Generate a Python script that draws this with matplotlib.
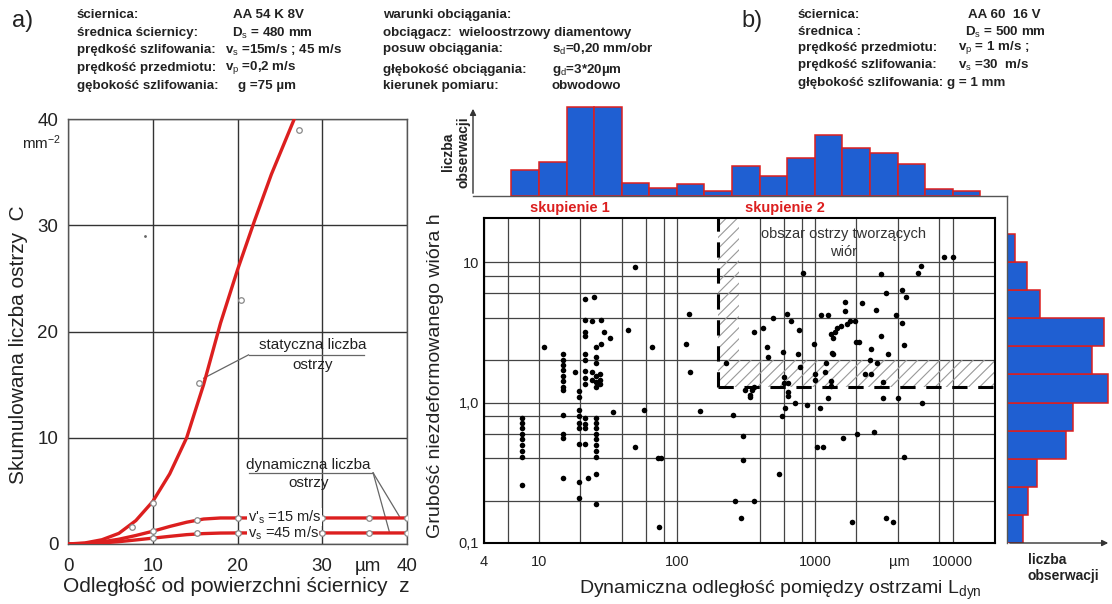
import numpy as np
import matplotlib
matplotlib.use("Agg")
from matplotlib import pyplot as plt
from matplotlib.lines import Line2D
from matplotlib.patches import Rectangle, FancyArrowPatch
from matplotlib.ticker import NullFormatter

plt.rcParams['font.family'] = ['Liberation Sans', 'DejaVu Sans']
plt.rcParams['mathtext.fontset'] = 'custom'
plt.rcParams['mathtext.rm'] = 'Liberation Sans'
plt.rcParams['mathtext.it'] = 'Liberation Sans:italic'
plt.rcParams['mathtext.bf'] = 'Liberation Sans:bold'
plt.rcParams['hatch.linewidth'] = 0.8

# ---- a) cumulative number of cutting edges vs depth z
z_stat = [0, 2, 4, 6, 8, 10, 12, 14, 16, 18, 20, 22, 24, 26.7]
c_stat = [0, 0.1, 0.4, 1.0, 2.2, 4.0, 6.6, 10.0, 15.0, 20.8, 25.8, 30.4, 34.8, 40.0]
z_stat_pts = [7.5, 10, 15.4, 20.4, 27.2]
c_stat_pts = [1.6, 3.9, 15.2, 23.0, 39.0]

z_dyn = [0, 2, 4, 6, 8, 10, 12, 14, 16, 18, 20, 25, 30, 35, 40]
c_dyn15 = [0, 0.05, 0.2, 0.45, 0.8, 1.2, 1.65, 2.05, 2.35, 2.45, 2.45, 2.45, 2.45, 2.45, 2.45]
c_dyn45 = [0, 0.03, 0.1, 0.22, 0.38, 0.55, 0.72, 0.88, 0.98, 1.03, 1.04, 1.04, 1.04, 1.04, 1.04]
z_dyn_pts = [10, 15.2, 20, 30, 35.5, 40]
c_dyn15_pts = [1.2, 2.3, 2.45, 2.45, 2.45, 2.45]
c_dyn45_pts = [0.55, 1.0, 1.04, 1.04, 1.04, 1.04]

# ---- b) chip thickness h vs dynamic edge spacing L_dyn
L_dyn = ([7.5] * 9 + [10.9] + [15] * 12 + [18.2] + [19.5] * 9 + [21.6] * 13 + [22.8]
         + [24.3] * 3 + [25.1] + [25.8] * 16 + [27.5] * 3
         + [28.3, 28.3, 29.5, 32.9, 34.6, 44, 49.7, 50, 58, 66, 73, 77, 74, 116, 122, 124, 148]
         + [228, 256, 262, 290, 300, 300, 365, 360, 350, 339, 365, 420, 310, 340,
            450, 460, 500, 550, 574, 590, 597, 597, 604, 630, 638, 638, 640, 670,
            716, 750, 770, 780, 820, 880, 990, 1000, 1000, 1040, 1095, 1100,
            1140, 1240, 1240, 1200, 1180, 1300, 1300, 1300, 1320, 1350, 1350, 1400, 1450,
            1550, 1650, 1650, 1700, 1800, 1950, 2000, 2100, 2030, 2200, 1870, 1590,
            2300, 2550, 2560, 2500, 2700, 2790, 2800, 3000, 3030, 3100, 3100, 3250, 3250,
            3400, 3700, 3900, 4000, 4300, 4300, 4400, 4400, 4600, 5600, 5900, 6000,
            8600, 10000])
h = ([0.78, 0.72, 0.66, 0.6, 0.55, 0.5, 0.45, 0.41, 0.26] + [2.47]
     + [2.2, 2.0, 1.85, 1.7, 1.55, 1.42, 1.3, 1.22, 0.82, 0.6, 0.56, 0.29] + [1.64]
     + [1.2, 1.1, 0.88, 0.8, 0.72, 0.66, 0.51, 0.27, 0.21]
     + [5.5, 3.9, 3.2, 3.0, 2.2, 2.0, 1.67, 1.5, 1.35, 0.78, 0.7, 0.66, 0.51] + [0.29]
     + [3.8, 1.64, 1.45] + [5.6]
     + [2.5, 2.1, 1.9, 1.55, 1.4, 1.3, 0.78, 0.72, 0.66, 0.6, 0.55, 0.5, 0.45, 0.41, 0.31, 0.19]
     + [1.6, 1.45, 1.35]
     + [3.9, 2.6, 3.16, 2.9, 0.85, 3.3, 9.2, 0.48, 0.89, 2.5, 0.4, 0.4, 0.13, 2.6, 4.25, 1.64, 0.87]
     + [1.9, 0.82, 0.2, 0.15, 0.58, 0.39, 0.2, 1.3, 1.22, 1.1, 3.2, 3.4, 1.22, 1.14,
        2.47, 2.1, 4.0, 0.31, 0.8, 2.3, 1.51, 1.37, 0.92, 4.3, 1.37, 1.18, 1.11, 3.8,
        1.0, 2.2, 3.3, 1.8, 8.3, 0.96, 2.6, 1.6, 1.44, 0.48, 0.92, 4.2,
        0.48, 4.2, 1.07, 1.9, 1.64, 3.1, 1.42, 1.32, 2.25, 2.2, 2.9, 3.2, 3.4,
        3.5, 5.2, 4.5, 3.6, 3.8, 3.8, 2.7, 2.7, 0.6, 5.1, 0.14, 0.56,
        1.6, 2.4, 1.6, 2.0, 0.62, 4.55, 1.9, 8.2, 3.0, 1.08, 1.4, 6.0, 0.15,
        2.2, 0.14, 4.2, 1.08, 6.3, 3.7, 2.55, 0.41, 5.6, 8.3, 9.4, 1.0,
        10.8, 10.8])

# histograms: bins of 0.2 decade
top_counts = [26, 34, 89, 89, 13, 8, 12, 5, 30, 20, 38, 61, 48, 43, 32, 7, 5]
right_counts = [16, 21, 30, 59, 66, 101, 85, 97, 33, 20, 8]   # from h = 0,1 upwards

x_grid = [6, 20, 40, 60, 80, 400, 600, 800, 2000, 4000, 8000]
y_grid = [0.2, 0.4, 0.6, 0.8, 2, 4, 6, 8]

W, H = 1112, 604
RED = '#dc1f1f'
BLUE = '#1f5fd2'
TXT = '#222222'


def box(x0, y0, x1, y1):
    return [x0 / W, 1 - y1 / H, (x1 - x0) / W, (y1 - y0) / H]


def fp(x, y):
    return (x / W, 1 - y / H)


fig = plt.figure(figsize=(W / 100, H / 100), dpi=100)

# ---------------- header texts
hdr = dict(fontsize=9.6, fontweight='bold', color=TXT, va='center')
fig.text(*fp(12, 21), 'a)', fontsize=17, color=TXT, va='center')
for y, a, b, xb in [(15, 'ściernica:', 'AA 54 K 8V', 233),
                    (33, 'średnica ściernicy:', r'D$_{\rm s}$ = 480 mm', 232),
                    (50, 'prędkość szlifowania:', r'v$_{\rm s}$ =15m/s ; 45 m/s', 225),
                    (68, 'prędkość przedmiotu:', r'v$_{\rm p}$ =0,2 m/s', 225),
                    (86, 'gębokość szlifowania:', 'g =75 µm', 238)]:
    fig.text(*fp(77, y), a, **hdr)
    fig.text(*fp(xb, y), b, **hdr)
for y, a, b in [(15, 'warunki obciągania:', ''),
                (33, 'obciągacz:  wieloostrzowy diamentowy', ''),
                (49, 'posuw obciągania:', r's$_{\rm d}$=0,20 mm/obr'),
                (70, 'głębokość obciągania:', r'g$_{\rm d}$=3*20µm'),
                (86, 'kierunek pomiaru:', 'obwodowo')]:
    fig.text(*fp(383, y), a, **hdr)
    if b:
        fig.text(*fp(552, y), b, **hdr)
fig.text(*fp(741, 21), 'b)', fontsize=17, color=TXT, va='center')
for y, a, b, xb in [(15, 'ściernica:', 'AA 60  16 V', 968),
                    (32, 'średnica :', r'D$_{\rm s}$ = 500 mm', 965),
                    (48, 'prędkość przedmiotu:', r'v$_{\rm p}$ = 1 m/s ;', 958),
                    (65, 'prędkość szlifowania:', r'v$_{\rm s}$ =30  m/s', 958),
                    (83, 'głębokość szlifowania: g = 1 mm', '', 0)]:
    fig.text(*fp(798, y), a, **hdr)
    if b:
        fig.text(*fp(xb, y), b, **hdr)

# ---------------- left chart
ax = fig.add_axes(box(68, 119, 407, 544))
ax.set_xlim(0, 40)
ax.set_ylim(0, 40)
ax.set_xticks([0, 10, 20, 30, 40])
ax.set_yticks([0, 10, 20, 30, 40])
ax.grid(True, color='#333333', lw=1.0)
for s in ax.spines.values():
    s.set_color('#555555')
    s.set_linewidth(1.0)
ax.tick_params(length=0, labelsize=13.5, colors=TXT)
ax.tick_params(axis='x', pad=10)
ax.tick_params(axis='y', pad=7)
ax.plot(z_stat, c_stat, color=RED, lw=2.4, solid_capstyle='round', zorder=3)
ax.plot(z_dyn, c_dyn15, color=RED, lw=2.4, zorder=3)
ax.plot(z_dyn, c_dyn45, color=RED, lw=2.4, zorder=3)
mk = dict(ls='none', marker='o', ms=4, mfc='white', mec='#888888', mew=0.9, zorder=5)
ax.plot(z_stat_pts, c_stat_pts, **mk)
ax.plot(z_dyn_pts, c_dyn15_pts, **mk)
ax.plot(z_dyn_pts, c_dyn45_pts, **mk)
ax.plot([9.1], [29], ls='none', marker='.', ms=2, color='#666666')
lab = dict(fontsize=10.5, color=TXT, va='center', zorder=6,
           bbox=dict(facecolor='white', edgecolor='none', pad=0.2))
ax.text(21.2, 2.5, r"v$'_{\rm s}$ =15 m/s", **lab)
ax.text(21.2, 1.0, r"v$_{\rm s}$ =45 m/s", **lab)
ax.text(28.9, 18.7, 'statyczna liczba', fontsize=11, color=TXT, ha='center', va='center')
ax.text(28.9, 16.8, 'ostrzy', fontsize=11, color=TXT, ha='center', va='center')
ax.plot([21.3, 34.9], [17.8, 17.8], color='#666666', lw=0.9)
ax.plot([21.3, 16.0], [17.8, 15.6], color='#666666', lw=0.9)
ax.text(28.4, 7.4, 'dynamiczna liczba', fontsize=11, color=TXT, ha='center', va='center')
ax.text(28.4, 5.75, 'ostrzy', fontsize=11, color=TXT, ha='center', va='center')
ax.plot([21.3, 36.0], [6.7, 6.7], color='#666666', lw=0.9)
ax.plot([36.0, 39.1], [6.7, 2.6], color='#666666', lw=0.9)
ax.plot([36.0, 37.9], [6.7, 1.2], color='#666666', lw=0.9)
ax.text(35.4, -0.033, 'µm', transform=ax.get_xaxis_transform(), fontsize=13.5,
        color=TXT, ha='center', va='top')
fig.text(*fp(42, 143), r'mm$^{-2}$', fontsize=11, color=TXT, ha='center', va='center')
fig.text(*fp(236, 587), 'Odległość od powierzchni ściernicy  z', fontsize=15,
         color=TXT, ha='center', va='center')
fig.text(*fp(19, 345), 'Skumulowana liczba ostrzy  C', fontsize=15, color=TXT,
         ha='center', va='center', rotation=90)

# ---------------- scatter
xmin, xmax = 4, 20200
ymin, ymax = 0.1, 20.6
bx = fig.add_axes(box(484, 218, 995, 543))
bx.set_xscale('log')
bx.set_yscale('log')
bx.set_xlim(xmin, xmax)
bx.set_ylim(ymin, ymax)
bx.set_xticks([4, 10, 100, 1000, 10000], labels=['4', '10', '100', '1000', '10000'])
bx.set_xticks(x_grid, minor=True)
bx.set_yticks([0.1, 1, 10], labels=['0,1', '1,0', '10'])
bx.set_yticks(y_grid, minor=True)
bx.xaxis.set_minor_formatter(NullFormatter())
bx.yaxis.set_minor_formatter(NullFormatter())
bx.tick_params(which='both', length=0, labelsize=10.5, colors=TXT)
bx.tick_params(axis='x', pad=9)
bx.grid(True, which='both', color='#444444', lw=0.9)
for s in bx.spines.values():
    s.set_color('black')
    s.set_linewidth(1.5)
bx.add_patch(Rectangle((200, 2.0), 280 - 200, ymax - 2.0, facecolor='none',
                       edgecolor='#999999', hatch='///', lw=0, zorder=2))
bx.add_patch(Rectangle((200, 1.3), xmax - 200, 2.0 - 1.3, facecolor='none',
                       edgecolor='#999999', hatch='///', lw=0, zorder=2))
bx.plot([200, 200], [1.3, ymax], color='black', lw=2.2, ls=(0, (5, 3.5)), zorder=4)
bx.plot([200, xmax], [1.3, 1.3], color='black', lw=2.2, ls=(0, (5, 3.5)), zorder=4)
bx.scatter(L_dyn, h, s=16, color='black', zorder=5, linewidths=0)
bx.text(1600, 13.7, 'obszar ostrzy tworzących\nwiór', fontsize=10.5, color='#333333',
        ha='center', va='center', linespacing=1.3, zorder=6)
bx.text(4100, -0.038, 'µm', transform=bx.get_xaxis_transform(), fontsize=10.5,
        color=TXT, ha='center', va='top')
fig.text(*fp(780, 590), r'Dynamiczna odległość pomiędzy ostrzami L$_{\rm dyn}$',
         fontsize=14, color=TXT, ha='center', va='center')
fig.text(*fp(436, 376), 'Grubość niezdeformowanego wióra h', fontsize=14, color=TXT,
         ha='center', va='center', rotation=90)
fig.text(*fp(570, 208), 'skupienie 1', fontsize=10.5, fontweight='bold', color=RED,
         ha='center', va='center')
fig.text(*fp(785, 208), 'skupienie 2', fontsize=10.5, fontweight='bold', color=RED,
         ha='center', va='center')

# ---------------- top histogram (shares log x)
tx = fig.add_axes(box(484, 105, 995, 196), sharex=bx)
tx.set_ylim(0, 91)
edges_x = 10 ** (0.8 + 0.2 * np.arange(len(top_counts) + 1))
tx.bar(edges_x[:-1], top_counts, width=np.diff(edges_x), align='edge',
       color=BLUE, edgecolor=RED, lw=1.1)
tx.axis('off')

# ---------------- right histogram (shares log y)
rx = fig.add_axes(box(1007, 218, 1112, 543), sharey=bx)
rx.set_xlim(0, 105)
edges_y = 10 ** (-1 + 0.2 * np.arange(len(right_counts) + 1))
rx.barh(edges_y[:-1], right_counts, height=np.diff(edges_y), align='edge',
        color=BLUE, edgecolor=RED, lw=1.1)
rx.axis('off')

# histogram frame lines and arrows
fig.add_artist(Line2D(*zip(fp(473, 196), fp(1007, 196)), color='#555555', lw=1.0))
fig.add_artist(Line2D(*zip(fp(1007, 196), fp(1007, 543)), color='#555555', lw=1.0))
fig.add_artist(FancyArrowPatch(fp(473, 196), fp(473, 106), transform=fig.transFigure,
                               arrowstyle='-|>', mutation_scale=9, color='#333333', lw=1.0))
fig.add_artist(FancyArrowPatch(fp(1007, 543), fp(1111, 543), transform=fig.transFigure,
                               arrowstyle='-|>', mutation_scale=9, color='#333333', lw=1.0))
fig.text(*fp(456, 152), 'liczba\nobserwacji', fontsize=10, fontweight='bold', color=TXT,
         ha='center', va='center', rotation=90, linespacing=1.1)
fig.text(*fp(1028, 568), 'liczba\nobserwacji', fontsize=10, fontweight='bold', color=TXT,
         ha='left', va='center', linespacing=1.2)

fig.savefig('out.png', dpi=100, facecolor='white')
